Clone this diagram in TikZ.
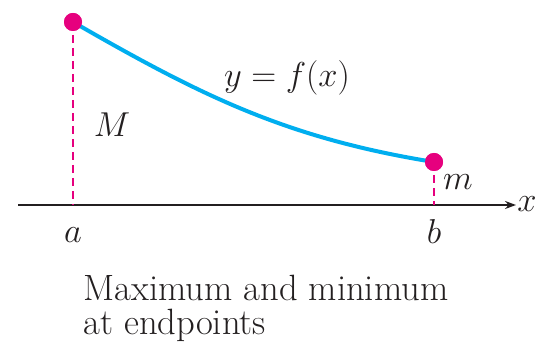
\documentclass[tikz,border=0pt]{standalone}
\usetikzlibrary{arrows.meta}
\definecolor{dotpink}{HTML}{E6007E}
\definecolor{curvecyan}{HTML}{00AEEF}
\definecolor{axisgray}{HTML}{231F20}
\begin{document}
\begin{tikzpicture}[x=0.5pt,y=-0.5pt,
  dotmark/.style={circle,fill=dotpink,inner sep=0pt,minimum size=9pt},
  dashline/.style={draw=dotpink,line width=1pt,dash pattern=on 4pt off 2.5pt},
  curveline/.style={draw=curvecyan,line width=2pt},
  axisline/.style={draw=axisgray,line width=0.9pt,-{Stealth[length=5.5pt,width=4pt]}},
  lbl/.style={inner sep=0pt,text=axisgray,font=\fontsize{18}{18}\selectfont},
  captext/.style={inner sep=0pt,anchor=base west,text=axisgray,font=\fontsize{18.3}{18.3}\selectfont}]
\useasboundingbox (0,0) rectangle (539,351);
\coordinate (L) at (18,205);
\coordinate (R) at (516,205);
\coordinate (a) at (73,205);
\coordinate (b) at (434,205);
\node[dotmark] (A) at (73,22) {};
\node[dotmark] (B) at (434,162) {};
\draw[axisline] (L) -- (R);
\draw[dashline] (A.center) -- (a);
\draw[dashline] (B.center) -- (b);
\draw[curveline] (A.center) .. controls (200,95) and (285,138) .. (B.center);
\node[dotmark] at (A) {};
\node[dotmark] at (B) {};
\node[lbl] (xl) at (527,204) {$x$};
\node[lbl] (al) at (73,235) {$a$};
\node[lbl] (bl) at (434,232) {$b$};
\node[lbl] (ml) at (458,182) {$m$};
\node[lbl] (Ml) at (112,125) {$M$};
\node[lbl,font=\fontsize{17}{17}\selectfont] (fl) at (287,78) {$y=f(x)$};
\node[captext] (c1) at (83,300) {Maximum and minimum};
\node[captext] (c2) at (83,335) {at endpoints};
\end{tikzpicture}
\end{document}
